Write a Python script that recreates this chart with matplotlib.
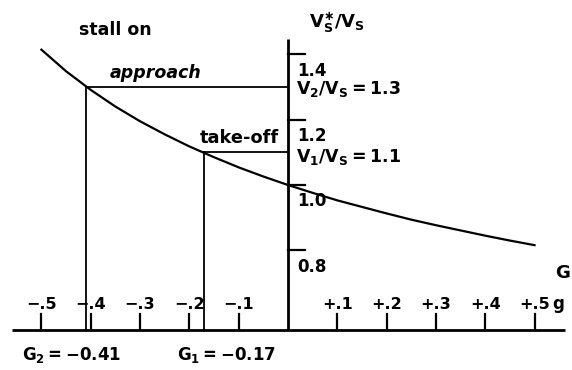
import matplotlib
matplotlib.use('Agg')
from matplotlib import pyplot as plt

plt.rcParams['font.family'] = 'DejaVu Sans'
plt.rcParams['font.weight'] = 'bold'
plt.rcParams['mathtext.fontset'] = 'dejavusans'
plt.rcParams['mathtext.default'] = 'bf'

# stall speed ratio read along the load factor axis
g_vals = [-0.50, -0.45, -0.40, -0.35, -0.30, -0.25, -0.20, -0.15, -0.10, -0.05,
          0.00, 0.05, 0.10, 0.15, 0.20, 0.25, 0.30, 0.35, 0.40, 0.45, 0.50]
ratio_vals = [1.414, 1.348, 1.291, 1.240, 1.195, 1.155, 1.118, 1.085, 1.054, 1.026,
              1.000, 0.976, 0.953, 0.933, 0.913, 0.894, 0.877, 0.861, 0.845, 0.830, 0.816]

x_ticks = [-0.5, -0.4, -0.3, -0.2, -0.1, 0.1, 0.2, 0.3, 0.4, 0.5]
x_labels = ['\u2212.5', '\u2212.4', '\u2212.3', '\u2212.2', '\u2212.1',
            '+.1', '+.2', '+.3', '+.4', '+.5']
y_ticks = [1.4, 1.2, 1.0, 0.8]
y_labels = ['1.4', '1.2', '1.0', '0.8']

# approach and take-off points
g2, v2 = -0.41, 1.3
g1, v1 = -0.17, 1.1

x_axis_v = 0.556   # where the G axis crosses the ratio scale

fig = plt.figure(figsize=(5.72, 3.70), dpi=100)
ax = fig.add_axes([0, 0, 1, 1])
ax.set_xlim(-0.584, 0.576)
ax.set_ylim(0.434, 1.566)
ax.axis('off')

# axes
ax.plot([-0.56, 0.562], [x_axis_v, x_axis_v], color='black', lw=2.0, solid_capstyle='butt')
ax.plot([0, 0], [x_axis_v, 1.446], color='black', lw=2.0, solid_capstyle='butt')

for t in x_ticks:
    ax.plot([t, t], [x_axis_v, x_axis_v + 0.049], color='black', lw=1.6)
for t, lab in zip(x_ticks, x_labels):
    ax.text(t, 0.621, lab, ha='center', va='baseline', fontsize=11.5)
ax.text(0.548, 0.621, 'g', ha='center', va='baseline', fontsize=12)

for t in y_ticks:
    ax.plot([0, 0.034], [t, t], color='black', lw=1.6)
for t, lab in zip(y_ticks, y_labels):
    ax.text(0.019, t - 0.05, lab, ha='left', va='center', fontsize=12)

# curve
ax.plot(g_vals, ratio_vals, color='black', lw=1.6)

# guide lines
ax.plot([g2, 0], [v2, v2], color='black', lw=1.3)
ax.plot([g2, g2], [x_axis_v, v2], color='black', lw=1.3)
ax.plot([g1, 0], [v1, v1], color='black', lw=1.3)
ax.plot([g1, g1], [x_axis_v, v1], color='black', lw=1.3)

ax.text(-0.424, 1.474, 'stall on', ha='left', va='center', fontsize=12.5)
ax.text(-0.361, 1.342, 'approach', ha='left', va='center', fontsize=12.5, style='italic')
ax.text(-0.178, 1.144, 'take-off', ha='left', va='center', fontsize=12.8)

ax.text(0.043, 1.495, r'$V_S^{\ast}/V_S$', ha='left', va='center', fontsize=13)
ax.text(0.016, 1.294, r'$V_2/V_S = 1.3$', ha='left', va='center', fontsize=12.5)
ax.text(0.016, 1.086, r'$V_1/V_S = 1.1$', ha='left', va='center', fontsize=12.5)
ax.text(0.556, 0.731, 'G', ha='center', va='center', fontsize=13)

ax.text(-0.540, 0.480, r'$G_2 = -0.41$', ha='left', va='center', fontsize=12)
ax.text(-0.225, 0.480, r'$G_1 = -0.17$', ha='left', va='center', fontsize=12)

fig.savefig('out.png', dpi=100)
